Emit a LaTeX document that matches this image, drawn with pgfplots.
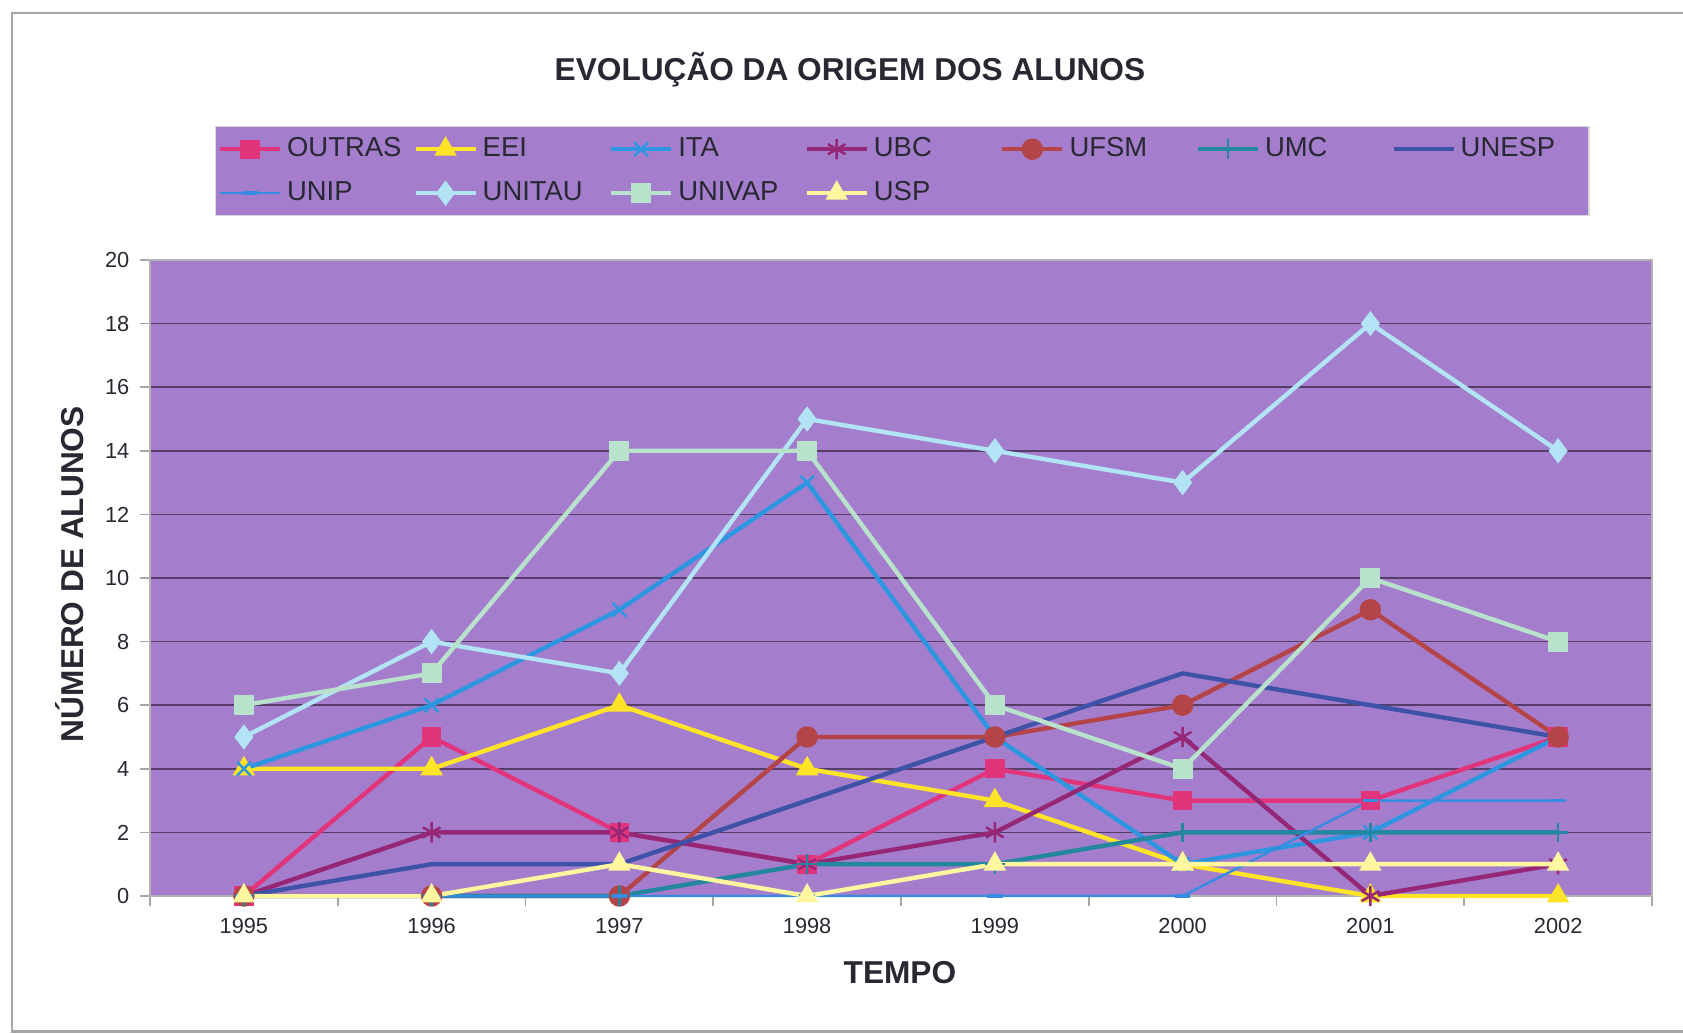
\documentclass[border=0pt]{standalone}
\usepackage{pgfplots}
\pgfplotsset{compat=1.18}
\usepackage{fontspec}
\setmainfont{Liberation Sans}
\definecolor{plotbg}{RGB}{164,126,204}
\definecolor{gridc}{RGB}{85,60,105}
\definecolor{cOUT}{RGB}{226,52,122}
\definecolor{cEEI}{RGB}{255,228,40}
\definecolor{cITA}{RGB}{45,150,225}
\definecolor{cUBC}{RGB}{150,38,118}
\definecolor{cUFSM}{RGB}{180,68,72}
\definecolor{cUMC}{RGB}{35,135,160}
\definecolor{cUNESP}{RGB}{62,82,168}
\definecolor{cUNIP}{RGB}{55,140,225}
\definecolor{cUNITAU}{RGB}{178,228,246}
\definecolor{cUNIVAP}{RGB}{184,226,204}
\definecolor{cUSP}{RGB}{255,246,160}
\definecolor{txt}{RGB}{40,40,50}
\begin{document}
\begin{tikzpicture}
\useasboundingbox (0,0) rectangle (168.3mm,103.4mm);
\draw[gray!70, line width=0.6pt] (175mm,102.1mm) -- (1.2mm,102.1mm) -- (1.2mm,0.25mm) -- (175mm,0.25mm);
\begin{axis}[
  at={(15.0mm,13.8mm)}, anchor=south west,
  scale only axis, width=150.2mm, height=63.6mm,
  xmin=1994.5, xmax=2002.5, ymin=0, ymax=20,
  clip=false,
  axis background/.style={fill=plotbg},
  axis line style={draw=gray!60, line width=0.5pt},
  xtick pos=bottom, ytick pos=left,
  xtick={1994.5,1995.5,...,2002.5}, xticklabels={},
  extra x ticks={1995,1996,1997,1998,1999,2000,2001,2002},
  extra x tick labels={1995,1996,1997,1998,1999,2000,2001,2002},
  extra x tick style={major tick length=0pt, grid=none},
  ytick={0,2,...,20},
  tick align=outside, major tick length=1mm,
  tick style={draw=gray!70, line width=0.5pt},
  ymajorgrids, major grid style={draw=gridc, line width=0.45pt},
  /pgf/number format/assume math mode=true,
  tick label style={font=\fontsize{6.2}{7}\selectfont, text=txt},
  yticklabel style={inner sep=0pt, xshift=-1mm},
  xticklabel style={inner sep=0pt, yshift=-2.2mm},
  every axis title shift=0pt,
  title={EVOLUÇÃO DA ORIGEM DOS ALUNOS},
  title style={at={(rel axis cs:0.466,1.2987)}, anchor=center, font=\fontsize{9}{11}\selectfont\bfseries, text=txt},
  xlabel={TEMPO},
  xlabel style={at={(rel axis cs:0.4993,-0.121)}, anchor=center, font=\fontsize{9}{11}\selectfont\bfseries, text=txt},
  ylabel={NÚMERO DE ALUNOS},
  ylabel style={at={(rel axis cs:-0.0533,0.506)}, anchor=center, rotate=0, font=\fontsize{9}{11}\selectfont\bfseries, text=txt},
  legend columns=7,
  legend style={at={(rel axis cs:0.0433,1.2107)}, anchor=north west, fill=plotbg, draw=gray!30,
    inner xsep=0.2mm, inner ysep=0.45mm, row sep=0.8mm, column sep=0pt,
    font=\fontsize{7.8}{9}\selectfont,
    nodes={inner sep=0.5mm, text height=2.0mm, text depth=0.6mm, text=txt}},
  every axis plot/.append style={line width=1.25pt},
]
\addplot[cOUT, mark=square*, mark size=2.5pt, mark options={solid, line width=0.5pt}] coordinates {(1995,0)(1996,5)(1997,2)(1998,1)(1999,4)(2000,3)(2001,3)(2002,5)};
\addlegendentry{\makebox[12.12mm][l]{OUTRAS}}
\addplot[cEEI, mark=triangle*, mark size=3.2pt, mark options={solid, line width=0.5pt}] coordinates {(1995,4)(1996,4)(1997,6)(1998,4)(1999,3)(2000,1)(2001,0)(2002,0)};
\addlegendentry{\makebox[12.12mm][l]{EEI}}
\addplot[cITA, mark=x, mark size=2.8pt, mark options={solid, line width=0.7pt}] coordinates {(1995,4)(1996,6)(1997,9)(1998,13)(1999,5)(2000,1)(2001,2)(2002,5)};
\addlegendentry{\makebox[12.12mm][l]{ITA}}
\addplot[cUBC, mark=asterisk, mark size=2.9pt, mark options={solid, line width=0.7pt}] coordinates {(1995,0)(1996,2)(1997,2)(1998,1)(1999,2)(2000,5)(2001,0)(2002,1)};
\addlegendentry{\makebox[12.12mm][l]{UBC}}
\addplot[cUFSM, mark=*, mark size=2.8pt, mark options={solid, line width=0.5pt}] coordinates {(1995,0)(1996,0)(1997,0)(1998,5)(1999,5)(2000,6)(2001,9)(2002,5)};
\addlegendentry{\makebox[12.12mm][l]{UFSM}}
\addplot[cUMC, mark=+, mark size=2.8pt, mark options={solid, line width=0.7pt}] coordinates {(1995,0)(1996,0)(1997,0)(1998,1)(1999,1)(2000,2)(2001,2)(2002,2)};
\addlegendentry{\makebox[12.12mm][l]{UMC}}
\addplot[cUNESP, no marks] coordinates {(1995,0)(1996,1)(1997,1)(1998,3)(1999,5)(2000,7)(2001,6)(2002,5)};
\addlegendentry{\makebox[12.12mm][l]{UNESP}}
\addplot[cUNIP, line width=0.7pt, mark=-, mark size=2.2pt, mark options={solid, line width=1pt}] coordinates {(1995,0)(1996,0)(1997,0)(1998,0)(1999,0)(2000,0)(2001,3)(2002,3)};
\addlegendentry{\makebox[12.12mm][l]{UNIP}}
\addplot[cUNITAU, mark=diamond*, mark size=3.2pt, mark options={solid, line width=0.5pt}] coordinates {(1995,5)(1996,8)(1997,7)(1998,15)(1999,14)(2000,13)(2001,18)(2002,14)};
\addlegendentry{\makebox[12.12mm][l]{UNITAU}}
\addplot[cUNIVAP, mark=square*, mark size=2.6pt, mark options={solid, line width=0.5pt}] coordinates {(1995,6)(1996,7)(1997,14)(1998,14)(1999,6)(2000,4)(2001,10)(2002,8)};
\addlegendentry{\makebox[12.12mm][l]{UNIVAP}}
\addplot[cUSP, mark=triangle*, mark size=3.2pt, mark options={solid, line width=0.5pt}] coordinates {(1995,0)(1996,0)(1997,1)(1998,0)(1999,1)(2000,1)(2001,1)(2002,1)};
\addlegendentry{\makebox[12.12mm][l]{USP}}
\end{axis}
\end{tikzpicture}
\end{document}
